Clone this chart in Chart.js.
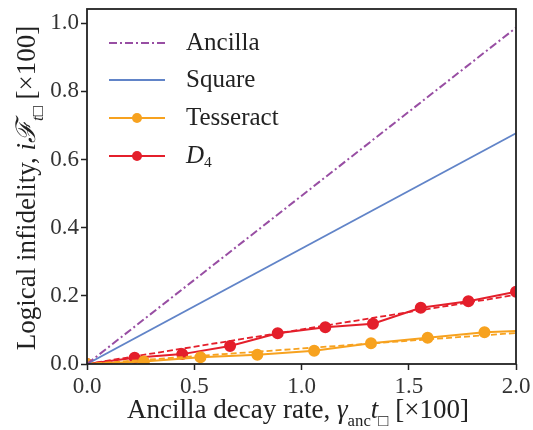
<!DOCTYPE html>
<html>
<head>
<meta charset="utf-8">
<script src="https://cdn.jsdelivr.net/npm/chart.js@4/dist/chart.umd.min.js"></script>
<style>
  html, body { margin:0; padding:0; background:#fff; }
  #wrap { width:533px; height:430px; position:relative; }
</style>
</head>
<body>
<div id="wrap"><canvas id="c" width="533" height="430"></canvas></div>
<script>
// donnees -------------------------------------------------------------------
const fitX = [0, 2.0];
const ancillaY = [0, 0.987];
const squareY = [0, 0.677];
const tessX = [0, 0.265, 0.529, 0.794, 1.059, 1.324, 1.588, 1.853, 2.118];
const tessY = [0, 0.007, 0.020, 0.027, 0.039, 0.061, 0.077, 0.093, 0.100];
const tessFitY = [0, 0.091];
const d4X = [0, 0.222, 0.444, 0.667, 0.889, 1.111, 1.333, 1.556, 1.778, 2.0];
const d4Y = [0, 0.018, 0.029, 0.053, 0.090, 0.108, 0.118, 0.165, 0.184, 0.212];
const d4FitY = [0, 0.203];
const xTicks = [0, 0.5, 1.0, 1.5, 2.0];
const yTicks = [0, 0.2, 0.4, 0.6, 0.8, 1.0];
const labels = ['Ancilla', 'Square', 'Tesseract', 'D4'];

const COL = { anc:'#984ea3', sq:'#6184c8', tess:'#f7a21f', d4:'#e41f2b' };
const SERIF = '"Liberation Serif", "DejaVu Serif", serif';
const pts = (xs, ys) => xs.map((x,i)=>({x, y:ys[i]}));

const line = (label, data, color, extra) => Object.assign({
  label, data, borderColor:color, backgroundColor:color,
  borderWidth:1.8, pointRadius:0, tension:0, clip:0
}, extra||{});

const datasets = [
  line(labels[0], pts(fitX, ancillaY), COL.anc, {borderDash:[8,3,2,3], borderWidth:2}),
  line(labels[1], pts(fitX, squareY), COL.sq),
  line('tessFit', pts(fitX, tessFitY), COL.tess, {borderDash:[6,3]}),
  line(labels[2], pts(tessX, tessY), COL.tess, {pointRadius:5, pointHoverRadius:5, borderWidth:2}),
  line('d4Fit', pts(fitX, d4FitY), COL.d4, {borderDash:[6,3]}),
  line(labels[3], pts(d4X, d4Y), COL.d4, {pointRadius:5, pointHoverRadius:5, borderWidth:2}),
];

// petit rendu de texte "math" : morceaux normaux / italiques / indices
function drawRich(ctx, parts, size){
  let w = 0;
  const items = parts.map(p=>{
    const fs = p.sub ? size*0.62 : size;
    const f = (p.it ? 'italic ' : '') + fs + 'px ' + SERIF;
    ctx.font = f;
    const mw = ctx.measureText(p.t).width;
    const it = {t:p.t, f, dx:w, dy:p.sub ? size*0.28 : 0};
    w += mw;
    return it;
  });
  return { width:w, draw(x, y){
    items.forEach(it=>{ ctx.font = it.f; ctx.fillText(it.t, x+it.dx, y+it.dy); });
  }};
}

const decor = {
  id:'decor',
  afterDatasetsDraw(chart){
    const {ctx, chartArea:a} = chart;
    ctx.save();
    // cadre
    ctx.strokeStyle = '#222'; ctx.lineWidth = 1.8;
    ctx.strokeRect(a.left, a.top, a.right-a.left, a.bottom-a.top);

    // legende
    const rows = [43, 80, 118, 156];
    const ds = [datasets[0], datasets[1], datasets[3], datasets[5]];
    ds.forEach((d,i)=>{
      const y = rows[i];
      ctx.strokeStyle = d.borderColor; ctx.lineWidth = d.borderWidth;
      ctx.setLineDash(d.borderDash || []);
      ctx.beginPath(); ctx.moveTo(109, y); ctx.lineTo(165, y); ctx.stroke();
      ctx.setLineDash([]);
      if(d.pointRadius){
        ctx.fillStyle = d.borderColor;
        ctx.beginPath(); ctx.arc(137, y, 5, 0, Math.PI*2); ctx.fill();
      }
      ctx.fillStyle = '#222'; ctx.textBaseline = 'middle';
      if(i === 3){
        const r = drawRich(ctx, [{t:'D', it:true}, {t:'4', sub:true}], 25);
        r.draw(186, y);
      } else {
        ctx.font = '25px ' + SERIF;
        ctx.fillText(d.label, 186, y);
      }
    });

    // titres des axes
    ctx.fillStyle = '#222'; ctx.textBaseline = 'alphabetic';
    const xt = drawRich(ctx, [
      {t:'Ancilla decay rate, '}, {t:'γ', it:true}, {t:'anc', sub:true},
      {t:'t', it:true}, {t:'□', sub:true}, {t:' [×100]'}
    ], 27);
    xt.draw(298 - xt.width/2, 418);

    const yt = drawRich(ctx, [
      {t:'Logical infidelity, '}, {t:'iℱ', it:true}, {t:'t□', sub:true, it:true}, {t:' [×100]'}
    ], 27);
    ctx.translate(35, 188);
    ctx.rotate(-Math.PI/2);
    yt.draw(-yt.width/2, 0);
    ctx.restore();
  }
};

new Chart(document.getElementById('c'), {
  type:'line',
  data:{ datasets },
  plugins:[decor],
  options:{
    responsive:false, animation:false,
    layout:{ padding:{ top:9, right:17, left:0, bottom:0 } },
    plugins:{ legend:{display:false}, tooltip:{enabled:false} },
    scales:{
      x:{
        type:'linear', min:0, max:2.0,
        afterBuildTicks: s => { s.ticks = xTicks.map(v=>({value:v})); },
        afterFit: s => { s.height = 66; s.paddingRight = 0; s.paddingLeft = 0; },
        grid:{ drawOnChartArea:false, drawTicks:true, tickLength:6, color:'#222', tickWidth:1.5 },
        border:{ display:false },
        ticks:{ color:'#333', padding:3, maxRotation:0, font:{ family:SERIF, size:23 },
          callback: v => Number(v).toFixed(1) }
      },
      y:{
        type:'linear', min:0, max:1.042,
        afterBuildTicks: s => { s.ticks = yTicks.map(v=>({value:v})); },
        afterFit: s => { s.width = 87; s.paddingTop = 0; s.paddingBottom = 0; },
        grid:{ drawOnChartArea:false, drawTicks:true, tickLength:6, color:'#222', tickWidth:1.5 },
        border:{ display:false },
        ticks:{ color:'#333', padding:2, font:{ family:SERIF, size:23 },
          callback: v => Number(v).toFixed(1) }
      }
    }
  }
});
</script>
</body>
</html>
